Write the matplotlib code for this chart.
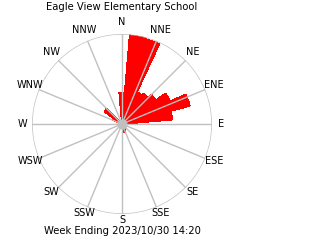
import numpy as np
import matplotlib
matplotlib.use("Agg")
import matplotlib.pyplot as plt

title = "Eagle View Elementary School"
footer = "Week Ending 2023/10/30 14:20"
compass = ["N", "NNE", "NE", "ENE", "E", "ESE", "SE", "SSE",
           "S", "SSW", "SW", "WSW", "W", "WNW", "NW", "NNW"]
# wind direction sectors (degrees) and relative frequency (circle = 100)
directions = [0, 10, 20, 30, 40, 50, 60, 70, 80, 90, 150, 160, 300, 310]
values = [35, 99, 98, 39, 41, 46, 59, 78, 56, 6, 7, 9, 12, 24]

W, H = 320, 240
cx, cy, R = 122, 124, 90

fig = plt.figure(figsize=(3.2, 2.4), dpi=100)
fig.patch.set_facecolor("white")
ax = fig.add_axes([(cx - R) / W, (H - cy - R) / H, 2 * R / W, 2 * R / H],
                  projection="polar")
ax.set_theta_zero_location("N")
ax.set_theta_direction(-1)
ax.set_ylim(0, 100)
ax.axis("off")

theta = np.deg2rad(directions)
ax.bar(theta, values, width=np.deg2rad(10), color="#ff0000",
       edgecolor="#ff0000", linewidth=0.5, align="center", zorder=2,
       antialiased=False)

grid = "#c0c0c0"
circ = np.linspace(0, 2 * np.pi, 400)
ax.plot(circ, np.full_like(circ, 100), color=grid, lw=1, zorder=3)
for i, lab in enumerate(compass):
    a = np.deg2rad(i * 22.5)
    rend = 102 if i % 4 == 0 else 100
    ax.plot([a, a], [0, rend], color=grid, lw=1, zorder=3)
    lx = cx + 99.5 * np.sin(a)
    ly = cy - 99 * np.cos(a) - 3 * abs(np.cos(a))
    fig.text(lx / W, 1 - ly / H, lab, ha="center", va="center",
             fontsize=7, color="black")
ax.scatter([0], [0], s=40, color=grid, zorder=4, clip_on=False)

fig.text(122 / W, 1 - 7 / H, title, ha="center", va="center", fontsize=7.2)
fig.text(122 / W, 1 - 231 / H, footer, ha="center", va="center", fontsize=7.2)

fig.savefig("out.png", dpi=100, facecolor="white")
